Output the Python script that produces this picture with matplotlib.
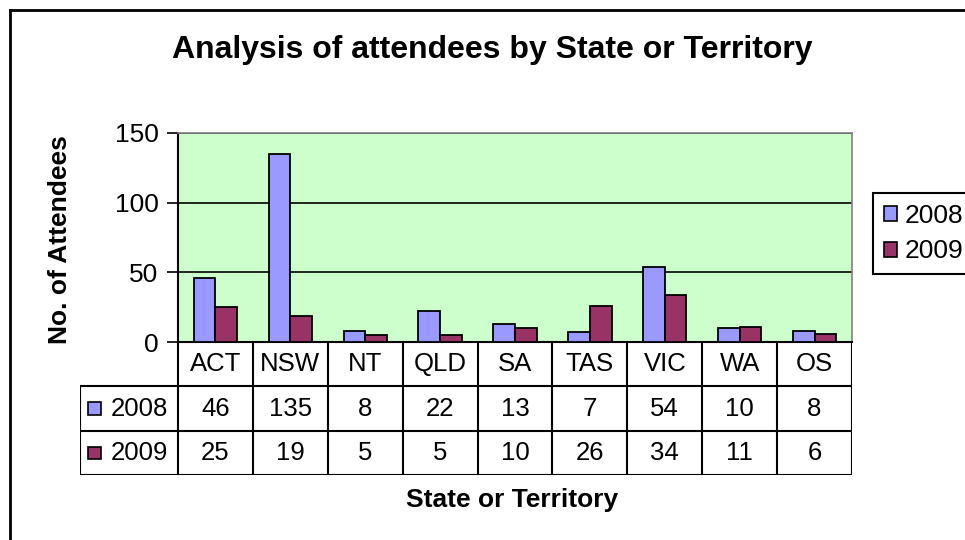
import numpy as np
import matplotlib
matplotlib.use("Agg")
from matplotlib import pyplot as plt
from matplotlib.patches import Patch, Rectangle
from matplotlib.lines import Line2D

plt.rcParams['font.family'] = ['Liberation Sans', 'DejaVu Sans']

states = ['ACT', 'NSW', 'NT', 'QLD', 'SA', 'TAS', 'VIC', 'WA', 'OS']
years = ['2008', '2009']
att_2008 = [46, 135, 8, 22, 13, 7, 54, 10, 8]
att_2009 = [25, 19, 5, 5, 10, 26, 34, 11, 6]
colors = ['#9999FF', '#993366']

W, H = 965, 540
fig = plt.figure(figsize=(W / 100, H / 100), dpi=100)

def box(x0, y0, x1, y1):
    # pixel box (top-left origin) -> figure fraction rect
    return [x0 / W, 1 - y1 / H, (x1 - x0) / W, (y1 - y0) / H]

# outer chart frame (only left and top are inside the picture)
fig.add_artist(Line2D([10 / W, 10 / W], [0, 1 - 10 / H], color='black', lw=2))
fig.add_artist(Line2D([10 / W, 1], [1 - 10 / H, 1 - 10 / H], color='black', lw=2))

ax = fig.add_axes(box(178, 133, 852, 342))
ax.set_facecolor('#CCFFCC')
x = np.arange(len(states))
w = 0.29
ax.bar(x - w / 2, att_2008, w, color=colors[0], edgecolor='black', lw=1.3, zorder=3)
ax.bar(x + w / 2, att_2009, w, color=colors[1], edgecolor='black', lw=1.3, zorder=3)
ax.set_xlim(-0.5, len(states) - 0.5)
ax.set_ylim(0, 150)
ax.set_yticks([0, 50, 100, 150])
ax.yaxis.grid(True, color='black', lw=1.2, zorder=1)
ax.set_xticks([])
ax.tick_params(axis='y', direction='out', length=8, width=1.2, labelsize=19, pad=6)
for s in ['left', 'bottom']:
    ax.spines[s].set_linewidth(1.5)
for s in ['top', 'right']:
    ax.spines[s].set_color('#808080')
    ax.spines[s].set_linewidth(1.2)

# data table under the chart
fs = 18.5
unit = (852 - 178) / len(states)
left = -0.5 - (178 - 80) / unit
tab = fig.add_axes(box(80, 342, 852, 475))
tab.set_xlim(left, len(states) - 0.5)
tab.set_ylim(3, 0)
tab.axis('off')
lk = dict(color='black', lw=1.5, solid_capstyle='projecting')
tab.plot([-0.5, -0.5], [0, 3], **lk)
for i in range(len(states)):
    tab.plot([i + 0.5, i + 0.5], [0, 3], **lk)
    tab.text(i, 0.5, states[i], ha='center', va='center', fontsize=fs)
    tab.text(i, 1.5, str(att_2008[i]), ha='center', va='center', fontsize=fs)
    tab.text(i, 2.5, str(att_2009[i]), ha='center', va='center', fontsize=fs)
tab.plot([left, left], [1, 3], **lk)
for r in [1, 2, 3]:
    tab.plot([left, len(states) - 0.5], [r, r], **lk)
sq = 13 / unit
for r, (yr, c) in enumerate(zip(years, colors)):
    tab.add_patch(Rectangle((left + 8 / unit, 1.5 + r - 0.14), sq, 0.28,
                            facecolor=c, edgecolor='black', lw=1.2))
    tab.text(left + 31 / unit, 1.5 + r, yr, ha='left', va='center', fontsize=fs)

fig.text(492 / W, 1 - 50 / H, 'Analysis of attendees by State or Territory',
         ha='center', va='center', fontsize=23, fontweight='bold')
fig.text(60 / W, 1 - 240 / H, 'No. of Attendees', rotation=90,
         ha='center', va='center', fontsize=19, fontweight='bold')
fig.text(512 / W, 1 - 500 / H, 'State or Territory',
         ha='center', va='center', fontsize=19, fontweight='bold')

handles = [Patch(facecolor=c, edgecolor='black', lw=1.2) for c in colors]
leg = fig.legend(handles, years, loc='upper left', bbox_to_anchor=(873 / W, 1 - 193 / H),
                 fontsize=19, handlelength=0.5, handleheight=0.5, handletextpad=0.3,
                 labelspacing=0.45, borderpad=0.4, borderaxespad=0, fancybox=False,
                 framealpha=1)
leg.get_frame().set_edgecolor('black')
leg.get_frame().set_linewidth(1.5)

fig.savefig('out.png', dpi=100)
